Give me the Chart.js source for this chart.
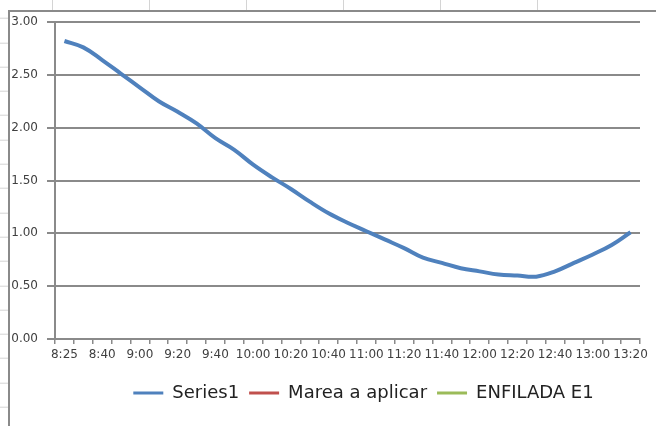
<!DOCTYPE html>
<html>
<head>
<meta charset="utf-8">
<script src="https://cdn.jsdelivr.net/npm/chart.js@4.4.0/dist/chart.umd.min.js"></script>
<style>
  html, body { margin: 0; padding: 0; }
  body {
    width: 656px; height: 426px; overflow: hidden; position: relative;
    background-color: #fff;
    /* spreadsheet cell lines behind the chart */
    background-image:
      repeating-linear-gradient(to right, transparent 0 96px, #d4d4d4 96px 97px),
      repeating-linear-gradient(to bottom, transparent 0 23.3px, #d4d4d4 23.3px 24.3px);
    background-position: -44px 0, 0 -5.3px;
  }
  #frame {
    position: absolute; left: 8px; top: 10px; width: 720px; height: 430px;
    border-left: 2px solid #8a8a8a; border-top: 2px solid #8a8a8a;
    background: #fff;
  }
  canvas { display: block; }
</style>
</head>
<body>
<div id="frame"><canvas id="chart" width="707" height="414"></canvas></div>
<script>
const times = ["8:25", "8:30", "8:40", "8:50", "9:00", "9:10", "9:20", "9:30", "9:40", "9:50",
    "10:00", "10:10", "10:20", "10:30", "10:40", "10:50", "11:00", "11:10", "11:20", "11:30",
    "11:40", "11:50", "12:00", "12:10", "12:20", "12:30", "12:40", "12:50", "13:00", "13:10", "13:20"];
const series1 = [2.82, 2.76, 2.64, 2.51, 2.38, 2.25, 2.15, 2.04, 1.90, 1.79,
    1.65, 1.53, 1.42, 1.30, 1.19, 1.10, 1.02, 0.94, 0.86, 0.77,
    0.72, 0.67, 0.64, 0.61, 0.60, 0.59, 0.64, 0.72, 0.80, 0.89, 1.01];
const marea = [];
const enfilada = [];
const yTicks = [0, 0.5, 1, 1.5, 2, 2.5, 3];

const gridGray = "#8a8a8a";
const tickFont = { family: "DejaVu Sans", size: 12 };

const ctx = document.getElementById("chart").getContext("2d");
new Chart(ctx, {
    type: "line",
    data: {
        labels: times,
        datasets: [{
            label: "Series1",
            data: series1,
            borderColor: "#4f81bd",
            backgroundColor: "#4f81bd",
            borderWidth: 4,
            pointRadius: 0,
            tension: 0.4,
            yAxisID: "y"
        }, {
            label: "Marea a aplicar",
            data: marea,
            borderColor: "#c0504d",
            backgroundColor: "#c0504d",
            borderWidth: 3,
            pointRadius: 0,
            yAxisID: "y"
        }, {
            label: "ENFILADA E1",
            data: enfilada,
            borderColor: "#9bbb59",
            backgroundColor: "#9bbb59",
            borderWidth: 3,
            pointRadius: 0,
            yAxisID: "y"
        }]
    },
    options: {
        responsive: false,
        animation: false,
        layout: { padding: { top: 0, left: 0, right: 0, bottom: 14 } },
        plugins: {
            tooltip: { enabled: false },
            legend: {
                position: "bottom",
                labels: {
                    color: "#222",
                    font: { family: "DejaVu Sans", size: 18 },
                    boxWidth: 30,
                    boxHeight: 3,
                    padding: 10,
                    generateLabels: function(chart) {
                        return Chart.defaults.plugins.legend.labels.generateLabels(chart)
                            .map(l => Object.assign(l, { lineWidth: 0, fillStyle: l.strokeStyle }));
                    }
                }
            }
        },
        scales: {
            x: {
                offset: true,
                grid: { offset: true, drawOnChartArea: false, drawTicks: true, tickLength: 5, color: gridGray, lineWidth: 1.5 },
                border: { color: gridGray, width: 2 },
                ticks: {
                    autoSkip: false, maxRotation: 0, padding: 4, color: "#404040", font: tickFont,
                    callback: function(val, i) { return i % 2 === 0 ? times[i] : ""; }
                },
                afterFit: function(scale) { scale.height = 35; }
            },
            y: {
                min: 0,
                max: 3,
                afterBuildTicks: function(scale) { scale.ticks = yTicks.map(v => ({ value: v })); },
                grid: { color: gridGray, lineWidth: 2, tickLength: 8 },
                border: { color: gridGray, width: 2 },
                ticks: {
                    padding: 9, color: "#404040", font: tickFont,
                    callback: function(v) { return Number(v).toFixed(2); }
                },
                afterFit: function(scale) {
                    scale.width = 45;
                    scale.paddingTop = 10;
                    scale.paddingBottom = 0;
                }
            },
            // empty axis on the right: keeps the plot narrow while the legend stays centred on the whole chart
            spacer: {
                position: "right",
                grid: { display: false },
                border: { display: false },
                ticks: { display: false },
                afterFit: function(scale) { scale.width = 77; }
            }
        }
    }
});
</script>
</body>
</html>
